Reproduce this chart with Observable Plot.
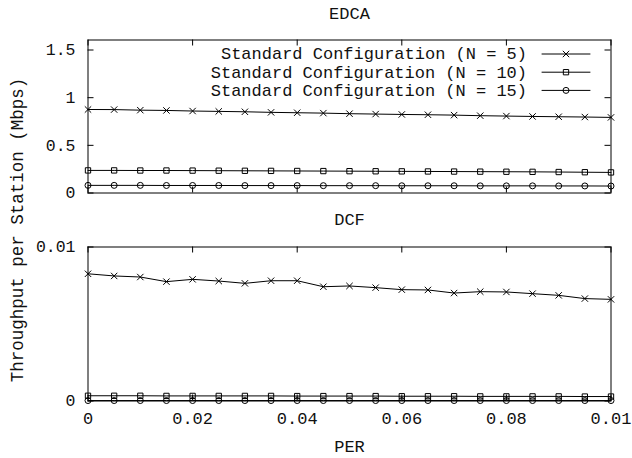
<!DOCTYPE html>
<html><head><meta charset="utf-8">
<script src="https://cdn.jsdelivr.net/npm/d3@7"></script>
<script src="https://cdn.jsdelivr.net/npm/@observablehq/plot@0.6"></script>
<style>
body{margin:0;background:#fff}
#wrap{position:relative;width:632px;height:458px;font-family:"Liberation Mono",monospace;color:#111;overflow:hidden}
.panel{position:absolute;left:0}
.ttl{position:absolute;font-size:17px;transform:translate(-50%,-50%);white-space:nowrap}
.ylab{position:absolute;font-size:17.5px;white-space:nowrap;transform:translate(-50%,-50%) rotate(-90deg)}
</style></head><body><div id="wrap"></div>
<script>
const per = [0,0.005,0.01,0.015,0.02,0.025,0.03,0.035,0.04,0.045,0.05,0.055,0.06,0.065,0.07,0.075,0.08,0.085,0.09,0.095,0.1];
const seriesNames = ["Standard Configuration (N = 5)","Standard Configuration (N = 10)","Standard Configuration (N = 15)"];
const edcaN5  = [0.876,0.875,0.869,0.866,0.860,0.856,0.852,0.846,0.842,0.838,0.832,0.828,0.824,0.821,0.817,0.811,0.807,0.803,0.800,0.797,0.793];
const edcaN10 = [0.237,0.237,0.236,0.236,0.235,0.234,0.233,0.232,0.231,0.230,0.229,0.228,0.227,0.226,0.225,0.224,0.223,0.222,0.220,0.218,0.216];
const edcaN15 = [0.080,0.080,0.080,0.079,0.079,0.079,0.078,0.078,0.078,0.077,0.077,0.077,0.076,0.076,0.076,0.075,0.075,0.075,0.074,0.074,0.073];
const dcfN5  = [0.00826,0.00812,0.00805,0.00775,0.00790,0.00779,0.00764,0.00781,0.00781,0.00742,0.00747,0.00736,0.00723,0.00721,0.00701,0.00710,0.00708,0.00697,0.00686,0.00665,0.00660];
const dcfN10 = [0.00034,0.00034,0.00034,0.00033,0.00033,0.00033,0.00033,0.00033,0.00032,0.00032,0.00032,0.00032,0.00031,0.00031,0.00031,0.00030,0.00030,0.00030,0.00030,0.00029,0.00029];
const dcfN15 = [0.00003,0.00003,0.00003,0.00003,0.00003,0.00003,0.00003,0.00003,0.00003,0.00003,0.00003,0.00003,0.00003,0.00003,0.00003,0.00003,0.00003,0.00003,0.00003,0.00003,0.00003];
const xTicks = [0,0.02,0.04,0.06,0.08,0.1];
const xTickLabels = ["0","0.02","0.04","0.06","0.08","0.01"];
const edcaTicks = [0,0.5,1,1.5];
const edcaTickLabels = ["0","0.5","1","1.5"];
const dcfTicks = [0,0.01];
const dcfTickLabels = ["0","0.01"];
const symbols = ["times","square","circle"];

function rows(arrs){
  const out=[];
  arrs.forEach((a,k)=>a.forEach((v,i)=>out.push({x:per[i],y:v,s:seriesNames[k]})));
  return out;
}
const lineShape = {draw(ctx,l){ctx.moveTo(0,0);ctx.lineTo(0,-l);}};
const W = 632, ML = 87.5, MR = 21.5, TICK = 6;
const FW = W - ML - MR;

function panel({data, yDomain, yTicks, yLabels, height, marginTop, marginBottom, showX, legend}){
  const FH = height - marginTop - marginBottom;
  const marks = [
    Plot.frame({stroke:"#000"}),
    Plot.tickY(yTicks,{y:d=>d,insetRight:FW-TICK,stroke:"#000"}),
    Plot.tickY(yTicks,{y:d=>d,insetLeft:FW-TICK,stroke:"#000"}),
    Plot.tickX(xTicks,{x:d=>d,insetTop:FH-TICK,stroke:"#000"}),
    Plot.tickX(xTicks,{x:d=>d,insetBottom:FH-TICK,stroke:"#000"}),
    Plot.axisY(yTicks,{anchor:"left",tickSize:0,tickPadding:12.5,tickFormat:d=>yLabels[yTicks.indexOf(d)],fontSize:16.5,fontFamily:"Liberation Mono",label:null}),
    Plot.axisX(xTicks,{anchor:"bottom",tickSize:0,tickPadding:showX?11:0,tickFormat:showX?(d=>xTickLabels[xTicks.indexOf(d)]):(()=>""),fontSize:17,fontFamily:"Liberation Mono",label:null}),
    Plot.line(data,{x:"x",y:"y",z:"s",stroke:"#000",strokeWidth:1}),
    Plot.dot(data,{x:"x",y:"y",symbol:"s",stroke:"#000",fill:"none",r:3,strokeWidth:1})
  ];
  if(legend){
    seriesNames.forEach((nm,i)=>{
      const dy = 14 + i*18.2;
      marks.push(Plot.text([nm],{frameAnchor:"top-right",text:d=>d,textAnchor:"end",lineAnchor:"middle",dx:-84,dy,fontSize:17,fontFamily:"Liberation Mono"}));
      marks.push(Plot.vector([nm],{frameAnchor:"top-right",dx:-45,dy,rotate:90,length:48,anchor:"middle",shape:lineShape,stroke:"#000",strokeWidth:1}));
      marks.push(Plot.dot([nm],{frameAnchor:"top-right",dx:-45,dy,symbol:d=>d,stroke:"#000",fill:"none",r:3,strokeWidth:1}));
    });
  }
  return Plot.plot({
    width:W,height,marginTop,marginBottom,marginLeft:ML,marginRight:MR,
    x:{domain:[0,0.1]},
    y:{domain:yDomain},
    symbol:{domain:seriesNames,range:symbols},
    style:{fontFamily:"Liberation Mono",fontSize:"17px",color:"#111",background:"transparent"},
    marks
  });
}

const wrap = document.getElementById("wrap");
const topPanel = panel({data:rows([edcaN5,edcaN10,edcaN15]),yDomain:[0,1.605],yTicks:edcaTicks,yLabels:edcaTickLabels,height:215,marginTop:39.5,marginBottom:22.5,showX:false,legend:true});
topPanel.classList.add("panel"); topPanel.style.top="0px";
wrap.appendChild(topPanel);
const botPanel = panel({data:rows([dcfN5,dcfN10,dcfN15]),yDomain:[0,0.01],yTicks:dcfTicks,yLabels:dcfTickLabels,height:243,marginTop:31.5,marginBottom:57.5,showX:true,legend:false});
botPanel.classList.add("panel"); botPanel.style.top="215px";
wrap.appendChild(botPanel);

function addText(cls,txt,x,y){const d=document.createElement("div");d.className=cls;d.textContent=txt;d.style.left=x+"px";d.style.top=y+"px";wrap.appendChild(d);}
addText("ttl","EDCA",349.5,14);
addText("ttl","DCF",349.5,220);
addText("ttl","PER",349.5,447);
addText("ylab","Throughput per Station (Mbps)",18,230);
</script></body></html>
